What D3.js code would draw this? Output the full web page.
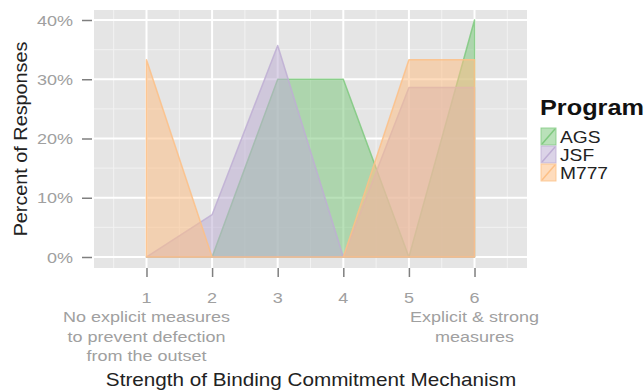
<!DOCTYPE html>
<html><head><meta charset="utf-8">
<script src="https://cdn.jsdelivr.net/npm/d3@7"></script>
<style>body{margin:0;background:#fff;} text{font-family:"Liberation Sans",Arial,sans-serif;}</style>
</head><body>
<svg id="c" width="644" height="392"></svg>
<script>
const levels = [1, 2, 3, 4, 5, 6];
const tickLabels = [
  ["1", "No explicit measures", "to prevent defection", "from the outset"],
  ["2"], ["3"], ["4"], ["5"],
  ["6", "Explicit & strong", "measures"]
];
const yTicks = [0, 0.1, 0.2, 0.3, 0.4];
const programs = ["AGS", "JSF", "M777"];
const colors = ["#7FC97F", "#BEAED4", "#FDC086"];
const agsValues  = [0, 0, 0.30, 0.30, 0, 0.40];
const jsfValues  = [0, 0.0714, 0.357, 0, 0.286, 0.286];
const m777Values = [0.333, 0, 0, 0, 0.333, 0.333];
const seriesValues = [agsValues, jsfValues, m777Values];

const svg = d3.select("#c");
const panel = {left: 94, right: 527, top: 10, bottom: 268};
const x = d3.scaleLinear().domain([0.2, 6.8]).range([panel.left, panel.right]);
const y = d3.scaleLinear().domain([0, 0.4]).range([257, 20]);

// panel background
svg.append("rect").attr("x", panel.left).attr("y", panel.top)
  .attr("width", panel.right - panel.left).attr("height", panel.bottom - panel.top)
  .attr("fill", "#e5e5e5");

// grid
const minorY = [0.05, 0.15, 0.25, 0.35];
const minorX = [0.5, 1.5, 2.5, 3.5, 4.5, 5.5, 6.5];
const g = svg.append("g");
minorY.forEach(v => g.append("line").attr("x1", panel.left).attr("x2", panel.right)
  .attr("y1", y(v)).attr("y2", y(v)).attr("stroke", "#f2f2f2").attr("stroke-width", 1));
minorX.forEach(v => g.append("line").attr("y1", panel.top).attr("y2", panel.bottom)
  .attr("x1", x(v)).attr("x2", x(v)).attr("stroke", "#f2f2f2").attr("stroke-width", 1));
yTicks.forEach(v => g.append("line").attr("x1", panel.left).attr("x2", panel.right)
  .attr("y1", y(v)).attr("y2", y(v)).attr("stroke", "#fff").attr("stroke-width", 2));
levels.forEach(v => g.append("line").attr("y1", panel.top).attr("y2", panel.bottom)
  .attr("x1", x(v)).attr("x2", x(v)).attr("stroke", "#fff").attr("stroke-width", 2));

// areas
const area = d3.area().x((d, i) => x(levels[i])).y0(y(0)).y1(d => y(d));
seriesValues.forEach((vals, k) => {
  svg.append("path").attr("d", area(vals)).attr("fill", colors[k]).attr("fill-opacity", 0.55)
    .attr("stroke", colors[k]).attr("stroke-opacity", 0.85).attr("stroke-width", 1.5)
    .attr("stroke-linejoin", "round");
});

// y axis
const yAxis = d3.axisLeft(y).tickValues(yTicks).tickFormat("").tickSize(10);
const ya = svg.append("g").attr("transform", `translate(${panel.left - 2},0)`).call(yAxis);
ya.select(".domain").remove();
ya.selectAll(".tick line").attr("stroke", "#7f7f7f").attr("stroke-width", 1.5);
yTicks.forEach(v => {
  svg.append("text").attr("transform", `translate(73,${y(v) + 5.5}) scale(1.2,1)`)
    .attr("text-anchor", "end").attr("fill", "#a0a0a0").attr("font-size", 15)
    .text(d3.format(".0%")(v));
});

// x axis
const xAxis = d3.axisBottom(x).tickValues(levels).tickFormat("").tickSize(9);
const xa = svg.append("g").attr("transform", `translate(0,${panel.bottom})`).call(xAxis);
xa.select(".domain").remove();
xa.selectAll(".tick line").attr("stroke", "#7f7f7f").attr("stroke-width", 1.5);
levels.forEach((v, i) => {
  const t = svg.append("text").attr("transform", `translate(${x(v)},303) scale(1.2,1)`)
    .attr("text-anchor", "middle").attr("fill", "#a0a0a0").attr("font-size", 15);
  tickLabels[i].forEach((s, j) => t.append("tspan").attr("x", 0).attr("dy", j === 0 ? 0 : 19.3).text(s));
});

// axis titles
svg.append("text").attr("transform", "translate(311,386) scale(1.15,1)").attr("text-anchor", "middle")
  .attr("font-size", 18).attr("fill", "#222").text("Strength of Binding Commitment Mechanism");
svg.append("text").attr("transform", "translate(27,139) rotate(-90) scale(1.1,1)").attr("text-anchor", "middle")
  .attr("font-size", 18).attr("fill", "#222").text("Percent of Responses");

// legend
svg.append("text").attr("transform", "translate(540,115) scale(1.15,1)").attr("font-size", 22)
  .attr("font-weight", "bold").attr("fill", "#111").text("Program");
programs.forEach((p, k) => {
  const ky = 128 + k * 18;
  svg.append("rect").attr("x", 541).attr("y", ky).attr("width", 15).attr("height", 17)
    .attr("fill", colors[k]).attr("fill-opacity", 0.55).attr("stroke", colors[k]).attr("stroke-opacity", 0.8);
  svg.append("line").attr("x1", 542).attr("y1", ky + 16).attr("x2", 555).attr("y2", ky + 1)
    .attr("stroke", colors[k]).attr("stroke-width", 1.5);
  svg.append("text").attr("transform", `translate(560,${ky + 15}) scale(1.2,1)`)
    .attr("font-size", 16).attr("fill", "#222").text(p);
});
</script>
</body></html>
